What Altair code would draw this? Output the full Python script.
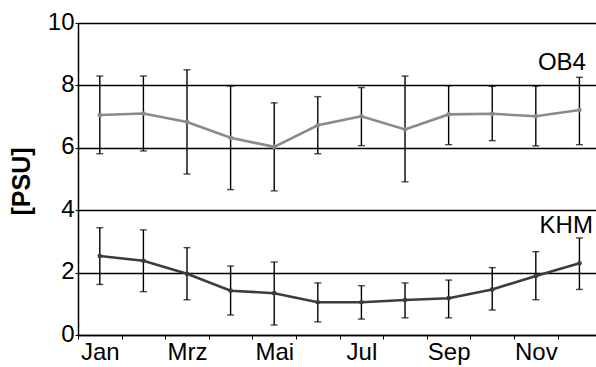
import altair as alt
import pandas as pd

# Monthly salinity means and error-bar limits for two stations
months = ["Jan", "Feb", "Mrz", "Apr", "Mai", "Jun", "Jul", "Aug", "Sep", "Okt", "Nov", "Dez"]

ob4_mean = [7.05, 7.10, 6.83, 6.32, 6.03, 6.72, 7.01, 6.59, 7.07, 7.09, 7.01, 7.21]
ob4_hi = [8.30, 8.30, 8.50, 7.98, 7.44, 7.64, 7.93, 8.30, 7.99, 7.97, 7.98, 8.26]
ob4_lo = [5.81, 5.90, 5.16, 4.66, 4.62, 5.81, 6.07, 4.91, 6.10, 6.23, 6.06, 6.10]

khm_mean = [2.53, 2.38, 1.96, 1.42, 1.34, 1.05, 1.05, 1.12, 1.18, 1.46, 1.89, 2.30]
khm_hi = [3.44, 3.37, 2.80, 2.21, 2.34, 1.67, 1.58, 1.67, 1.76, 2.16, 2.67, 3.11]
khm_lo = [1.62, 1.39, 1.13, 0.64, 0.32, 0.42, 0.51, 0.55, 0.55, 0.80, 1.13, 1.46]

stations = ["OB4", "KHM"]
station_colors = ["#8a8a8a", "#3c3c3c"]

idx = list(range(1, 13))
rows = []
for name, mean, hi, lo in [("OB4", ob4_mean, ob4_hi, ob4_lo), ("KHM", khm_mean, khm_hi, khm_lo)]:
    for i, m, h, l in zip(idx, mean, hi, lo):
        rows.append({"m": i, "Monat": months[i - 1], "station": name, "mean": m, "hi": h, "lo": l})
df = pd.DataFrame(rows)

# station name labels, anchored in data coordinates
labels = pd.DataFrame({"station": stations, "m": [12.15, 12.31], "v": [8.49, 3.27]})

FONT = "Liberation Sans"
x_scale = alt.Scale(domain=[0.5, 12.38], nice=False, zero=False)
y_scale = alt.Scale(domain=[0, 10], nice=False)
color_scale = alt.Scale(domain=stations, range=station_colors)

y_axis = alt.Axis(
    values=[0, 2, 4, 6, 8, 10], title="[PSU]", grid=True, gridColor="black", gridWidth=1.3,
    domainColor="black", domainWidth=1.5, tickColor="black", tickSize=3, labelPadding=1,
    labelFont=FONT, labelFontSize=24, labelColor="black", labelOffset=-1,
    titleFont=FONT, titleFontSize=25, titleFontWeight="bold", titleColor="black",
    titleAngle=270, titleX=-57, titleY=158, titleAlign="center", titleBaseline="middle",
)

# month boundaries carry the ticks, every second month carries a label
edges = [i + 0.5 for i in range(0, 13)]
tick_axis = alt.Axis(orient="bottom", values=edges, labels=False, ticks=True, tickSize=4,
                     tickColor="black", domainColor="black", domainWidth=1.5, grid=False, title=None)
label_axis = alt.Axis(orient="bottom", values=[1, 3, 5, 7, 9, 11],
                      labelExpr="['','Jan','Feb','Mrz','Apr','Mai','Jun','Jul','Aug','Sep','Okt','Nov','Dez'][datum.value]",
                      ticks=False, domain=False, grid=False, title=None, labelPadding=5,
                      labelFont=FONT, labelFontSize=24, labelColor="black")

base = alt.Chart(df)

lines_ob4 = base.transform_filter(alt.datum.station == "OB4").mark_line(
    strokeWidth=2.6, point=alt.OverlayMarkDef(size=22, filled=True, color="#8a8a8a")
).encode(
    x=alt.X("m:Q", scale=x_scale, axis=tick_axis),
    y=alt.Y("mean:Q", scale=y_scale, axis=y_axis),
    color=alt.Color("station:N", scale=color_scale, legend=None),
)

lines_khm = base.transform_filter(alt.datum.station == "KHM").mark_line(
    strokeWidth=2.6, point=alt.OverlayMarkDef(size=22, filled=True, color="#3c3c3c")
).encode(
    x=alt.X("m:Q", scale=x_scale, axis=label_axis),
    y=alt.Y("mean:Q", scale=y_scale, axis=y_axis),
    color=alt.Color("station:N", scale=color_scale, legend=None),
)

err = base.mark_rule(color="black", strokeWidth=1.4).encode(
    x=alt.X("m:Q", scale=x_scale, axis=None),
    y=alt.Y("lo:Q", scale=y_scale, axis=y_axis),
    y2="hi:Q",
)
cap_hi = base.mark_tick(color="black", orient="horizontal", size=7, thickness=1.4).encode(
    x=alt.X("m:Q", scale=x_scale, axis=None),
    y=alt.Y("hi:Q", scale=y_scale, axis=y_axis),
)
cap_lo = base.mark_tick(color="black", orient="horizontal", size=7, thickness=1.4).encode(
    x=alt.X("m:Q", scale=x_scale, axis=None),
    y=alt.Y("lo:Q", scale=y_scale, axis=y_axis),
)

names = alt.Chart(labels).mark_text(
    font=FONT, fontSize=24, color="black", align="right", baseline="alphabetic"
).encode(
    x=alt.X("m:Q", scale=x_scale, axis=None),
    y=alt.Y("v:Q", scale=y_scale, axis=y_axis),
    text="station:N",
)

chart = alt.layer(err, cap_hi, cap_lo, lines_ob4, lines_khm, names).resolve_axis(
    x="independent"
).properties(
    width=518, height=312,
    autosize=alt.AutoSizeParams(type="none"),
    padding={"left": 78, "top": 23, "right": 0, "bottom": 32},
    background="white",
).configure_view(stroke=None)

chart.save("out.html", embed_options={"renderer": "svg", "actions": False})
